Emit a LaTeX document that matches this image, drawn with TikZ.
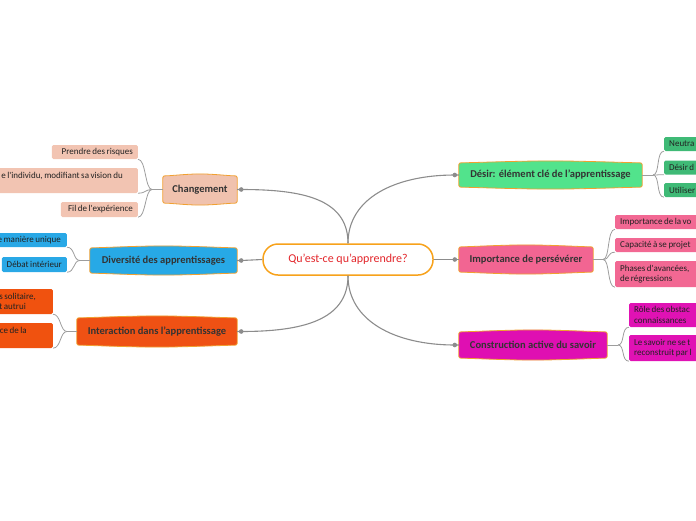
\documentclass[tikz,border=0pt]{standalone}
\usepackage{fontspec}
\setmainfont{Carlito}
\newfontfamily\childfont{Carlito}[WordSpace=0.75]
\usetikzlibrary{calc}
\pgfdeclarelayer{bg}
\pgfsetlayers{bg,main}
\definecolor{conn}{HTML}{8C8C8C}
\definecolor{tborder}{HTML}{F0A030}
\definecolor{corange}{HTML}{F7A21B}
\definecolor{cred}{HTML}{E3262B}
\definecolor{tdark}{HTML}{333333}
\definecolor{cdark}{HTML}{222222}
\definecolor{salmon}{HTML}{F0C2AE}
\definecolor{salmonc}{HTML}{F2C4B2}
\definecolor{mgreen}{HTML}{52E38C}
\definecolor{cgreen}{HTML}{3FBA76}
\definecolor{mblue}{HTML}{27A9E6}
\definecolor{cblue}{HTML}{29A8E6}
\definecolor{mpink}{HTML}{F26592}
\definecolor{cpink}{HTML}{F26893}
\definecolor{morange}{HTML}{EF5114}
\definecolor{corg}{HTML}{F0520F}
\definecolor{mmag}{HTML}{DF0FB2}
\definecolor{cmag}{HTML}{E012B4}
\tikzset{
  topic/.style={inner sep=0pt, font=\fontsize{10.5}{12}\selectfont\bfseries, text=tdark},
  child/.style={rectangle, rounded corners=1.5pt, inner xsep=5pt, inner ysep=1pt, font=\childfont\fontsize{9}{10.5}\selectfont, text=cdark},
  mainline/.style={draw=conn, line width=1.1pt},
  subline/.style={draw=conn!85, line width=0.8pt},
}
\newcommand\topicshape[2]{%
 \begin{pgfonlayer}{bg}
 \path[fill=#2, draw=tborder, line width=0.8pt]
  ($(#1.north west)+(0,4)$) -- ($(#1.south west)+(0,-4)$)
  .. controls (#1.south west) .. ($(#1.south west)+(5,0)$)
  .. controls ($(#1.south)+(0,2.5)$) .. ($(#1.south east)+(-5,0)$)
  .. controls (#1.south east) .. ($(#1.south east)+(0,-4)$)
  -- ($(#1.north east)+(0,4)$)
  .. controls (#1.north east) .. ($(#1.north east)+(-5,0)$)
  .. controls ($(#1.north)+(0,-2.5)$) .. ($(#1.north west)+(5,0)$)
  .. controls (#1.north west) .. ($(#1.north west)+(0,4)$) -- cycle;
 \end{pgfonlayer}}
\newcommand\lbranch[2]{\draw[subline] (#1) .. controls ($(#1)+(-7,0)$) and ($(#2)+(8,0)$) .. (#2);}
\newcommand\rbranch[2]{\draw[subline] (#1) .. controls ($(#1)+(7,0)$) and ($(#2)+(-8,0)$) .. (#2);}
\newcommand\rbox[2]{\makebox[#1pt][r]{#2}}
\newcommand\lbox[2]{\makebox[#1pt][l]{#2}}
\begin{document}
\begin{tikzpicture}[x=1pt,y=-1pt]
\useasboundingbox (0,0) rectangle (696,520);
\clip (0,0) rectangle (696,520);

% central
\node[draw=corange, line width=1.5pt, fill=white, rounded corners=15pt, minimum width=170, minimum height=31, font=\fontsize{12}{14}\selectfont, text=cred] (c) at (348,259.5) {Qu'est-ce qu'apprendre?};

% topics
\node[topic, minimum width=74, minimum height=27] (chg) at (200,189.5) {Changement};
\node[topic, minimum width=183, minimum height=24] (des) at (550.5,175) {Désir: élément clé de l'apprentissage};
\node[topic, minimum width=147, minimum height=25] (div) at (163.5,260.5) {Diversité des apprentissages};
\node[topic, minimum width=134, minimum height=25] (per) at (526,259.5) {Importance de persévérer};
\node[topic, minimum width=160, minimum height=27] (int) at (157,331.5) {Interaction dans l'apprentissage};
\node[topic, minimum width=148, minimum height=26, text=black!80] (con) at (533,345) {Construction active du savoir};
\topicshape{chg}{salmon}
\topicshape{des}{mgreen}
\topicshape{div}{mblue}
\topicshape{per}{mpink}
\topicshape{int}{morange}
\topicshape{con}{mmag}

% main connectors
\coordinate (dchg) at ($(chg.east)+(4,0)$);
\coordinate (ddes) at ($(des.west)+(-4,0)$);
\coordinate (ddiv) at ($(div.east)+(4,0)$);
\coordinate (dper) at ($(per.west)+(-4,0)$);
\coordinate (dint) at ($(int.east)+(4,0)$);
\coordinate (dcon) at ($(con.west)+(-4,0)$);
\draw[mainline] (c.north) .. controls ($(c.north)+(0,-45)$) and ($(dchg)+(60,0)$) .. (dchg) -- (chg.east);
\draw[mainline] (c.north) .. controls ($(c.north)+(0,-45)$) and ($(ddes)+(-60,0)$) .. (ddes) -- (des.west);
\draw[mainline] (c.west) -- (ddiv) -- (div.east);
\draw[mainline] (c.east) -- (dper) -- (per.west);
\draw[mainline] (c.south) .. controls ($(c.south)+(0,45)$) and ($(dint)+(60,0)$) .. (dint) -- (int.east);
\draw[mainline] (c.south) .. controls ($(c.south)+(0,45)$) and ($(dcon)+(-60,0)$) .. (dcon) -- (con.west);
\foreach \d in {dchg,ddes,ddiv,dper,dint,dcon} \fill[conn] (\d) circle (2.3pt);

% Changement children
\node[child, fill=salmonc, minimum height=14, anchor=east] (ch1) at (138,152) {\rbox{76}{Prendre des risques}};
\node[child, fill=salmonc, minimum height=25, align=flush right, anchor=east] (ch2) at (138,180.5) {\rbox{190}{e l'individu, modifiant sa vision du\hspace*{10pt}}\\\mbox{}};
\node[child, fill=salmonc, minimum height=15, anchor=east] (ch3) at (138,209.5) {\rbox{67}{Fil de l'expérience}};
\coordinate (bchg) at (152,189.5);
\draw[subline] (chg.west) -- (bchg);
\lbranch{bchg}{ch1.south east}
\lbranch{bchg}{ch2.south east}
\lbranch{bchg}{ch3.south east}

% Diversite children
\node[child, fill=cblue, minimum height=14, anchor=east] (d1) at (67,240) {\rbox{80}{e manière unique\hspace*{1pt}}};
\node[child, fill=cblue, minimum height=15, anchor=east] (d2) at (67,264.5) {\makebox[55pt][c]{Débat intérieur}};
\coordinate (bdiv) at (80,260.5);
\draw[subline] (div.west) -- (bdiv);
\lbranch{bdiv}{d1.south east}
\lbranch{bdiv}{d2.south east}

% Interaction children
\node[child, fill=corg, minimum height=25, align=flush left, anchor=east] (i1) at (53,301.5) {s solitaire,\hspace*{12pt}\\t autrui};
\node[child, fill=corg, minimum height=25, align=flush left, anchor=east] (i2) at (53,335.5) {ce de la\hspace*{21pt}\\\mbox{}};
\coordinate (bint) at (67,331.5);
\draw[subline] (int.west) -- (bint);
\lbranch{bint}{i1.south east}
\lbranch{bint}{i2.south east}

% Desir children
\node[child, fill=cgreen, minimum height=14, anchor=west] (n1) at (664,144) {\lbox{60}{Neutra}};
\node[child, fill=cgreen, minimum height=14, anchor=west] (n2) at (664,167.5) {\lbox{60}{Désir d}};
\node[child, fill=cgreen, minimum height=14, anchor=west] (n3) at (664,190) {\lbox{60}{Utiliser}};
\coordinate (bdes) at (653,175);
\draw[subline] (des.east) -- (bdes);
\rbranch{bdes}{n1.south west}
\rbranch{bdes}{n2.south west}
\rbranch{bdes}{n3.south west}

% Perseverer children
\node[child, fill=cpink, minimum height=14, anchor=west] (p1) at (615,222) {\lbox{100}{Importance de la vo}};
\node[child, fill=cpink, minimum height=14, anchor=west] (p2) at (615,245) {\lbox{100}{Capacité à se projet}};
\node[child, fill=cpink, minimum height=26, text width=100, align=flush left, anchor=west] (p3) at (615,274) {Phases d'avancées,\\de régressions};
\coordinate (bper) at (603,259.5);
\draw[subline] (per.east) -- (bper);
\rbranch{bper}{p1.south west}
\rbranch{bper}{p2.south west}
\rbranch{bper}{p3.south west}

% Construction children
\node[child, fill=cmag, minimum height=24, text width=90, align=flush left, anchor=west] (k1) at (629,315) {Rôle des obstac\\connaissances};
\node[child, fill=cmag, minimum height=26, text width=90, align=flush left, anchor=west] (k2) at (629,348) {Le savoir ne se t\\reconstruit par l};
\coordinate (bcon) at (618,345);
\draw[subline] (con.east) -- (bcon);
\rbranch{bcon}{k1.south west}
\rbranch{bcon}{k2.south west}
\end{tikzpicture}
\end{document}
